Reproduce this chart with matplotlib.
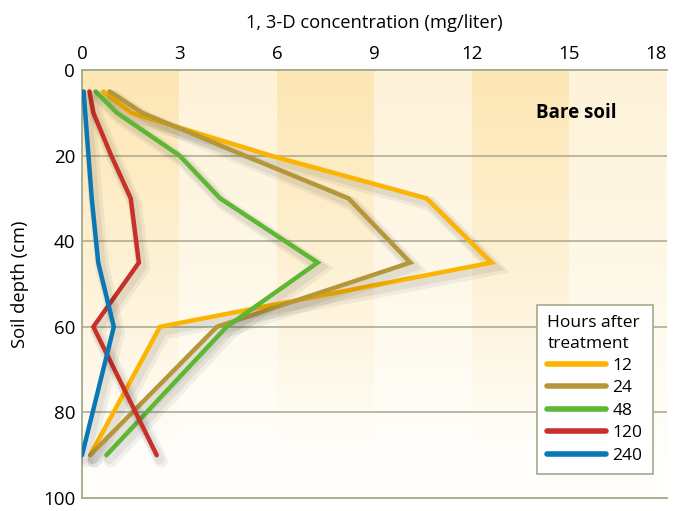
import numpy as np
import matplotlib
matplotlib.use("Agg")
import matplotlib.pyplot as plt
import matplotlib.patheffects as pe

plt.rcParams['font.family'] = ['Open Sans', 'DejaVu Sans']

depth = [5, 10, 20, 30, 45, 60, 90]
hours = ['12', '24', '48', '120', '240']
conc_12 = [0.66, 1.5, 5.8, 10.6, 12.6, 2.4, 0.25]
conc_24 = [0.85, 1.85, 5.0, 8.2, 10.1, 4.15, 0.25]
conc_48 = [0.42, 1.07, 3.0, 4.25, 7.25, 4.45, 0.75]
conc_120 = [0.23, 0.35, 0.9, 1.5, 1.75, 0.35, 2.3]
conc_240 = [0.05, 0.1, 0.2, 0.3, 0.5, 0.98, 0.0]
series = [conc_12, conc_24, conc_48, conc_120, conc_240]
colors = ['#fbb400', '#b5973a', '#5db733', '#c8302a', '#0a78b4']

fig = plt.figure(figsize=(6.73, 5.11), dpi=100)
ax = fig.add_axes([82/673, 1-498/511, 585/673, 428/511])

# banded background fading to white downwards
ny, nx = 200, 180
dark = np.array([253, 231, 182]) / 255
light = np.array([254, 243, 217]) / 255
white = np.array([255, 254, 250]) / 255
img = np.zeros((ny, nx, 3))
for j in range(nx):
    base = dark if (j // 30) % 2 == 0 else light
    for i in range(ny):
        t = min(1.0, (i / ny) ** 1.2 * 1.15)
        img[i, j] = base * (1 - t) + white * t
ax.imshow(img, extent=[0, 18, 100, 0], aspect='auto', interpolation='nearest', zorder=0)

grid_c = '#a3a98e'
for d in [20, 40, 60, 80]:
    ax.axhline(d, color=grid_c, lw=1.1, zorder=1)

shadow = [pe.SimpleLineShadow(offset=(2, -3), shadow_color='k', alpha=0.06, linewidth=7),
          pe.SimpleLineShadow(offset=(3, -4), shadow_color='k', alpha=0.05, linewidth=10),
          pe.Normal()]
for vals, c, h in zip(series, colors, hours):
    ax.plot(vals, depth, color=c, lw=3.2, label=h, solid_capstyle='round',
            solid_joinstyle='miter', path_effects=shadow, zorder=3)

ax.set_xlim(0, 18)
ax.set_ylim(100, 0)
ax.set_xticks(range(0, 19, 3))
ax.set_yticks(range(0, 101, 20))
ax.xaxis.tick_top()
ax.xaxis.set_label_position('top')
ax.tick_params(length=0, labelsize=13.5, pad=5)
ax.get_xticklabels()[-1].set_horizontalalignment('right')
ax.set_xlabel('1, 3-D concentration (mg/liter)', fontsize=13.2, labelpad=12)
ax.set_ylabel('Soil depth (cm)', fontsize=13.2, labelpad=10)
for s in ['left', 'top', 'bottom']:
    ax.spines[s].set_color(grid_c)
    ax.spines[s].set_linewidth(1.3)
ax.spines['right'].set_visible(False)

ax.text(15.2, 10, 'Bare soil', fontsize=13.5, fontweight='bold', ha='center', va='center')

leg = ax.legend(title='Hours after\ntreatment', loc='upper left',
                bbox_to_anchor=(537/673, 1-305/511), bbox_transform=fig.transFigure,
                borderaxespad=0, fontsize=12.5, title_fontsize=12.5, handlelength=3.4,
                handletextpad=0.35, labelspacing=0.36, borderpad=0.6, fancybox=False,
                framealpha=1, edgecolor=grid_c)
leg._legend_box.align = 'left'
leg.get_title().set_linespacing(1.35)
leg.get_frame().set_linewidth(1.2)
for line in leg.get_lines():
    line.set_linewidth(4)
    line.set_path_effects([])

fig.savefig('out.png', dpi=100)
